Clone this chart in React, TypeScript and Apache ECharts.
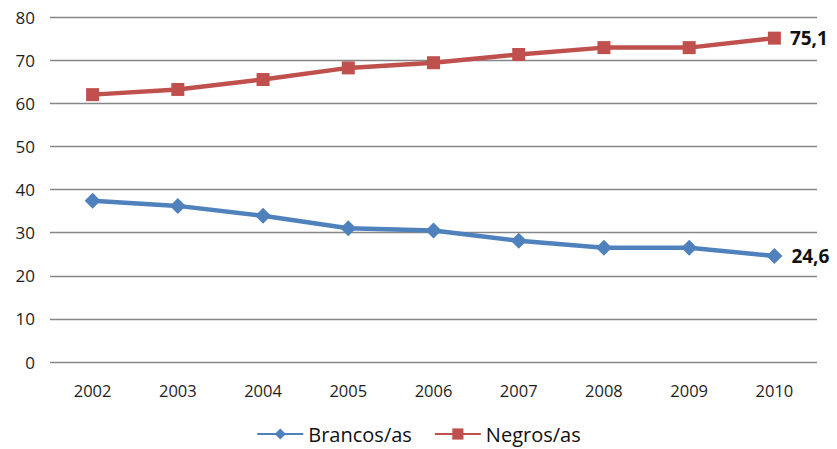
import React, { useEffect, useRef } from "react";
import * as echarts from "echarts";

const years = ["2002", "2003", "2004", "2005", "2006", "2007", "2008", "2009", "2010"];
const brancos = [37.4, 36.2, 33.9, 31.0, 30.5, 28.1, 26.5, 26.5, 24.6];
const negros = [62.0, 63.2, 65.5, 68.2, 69.4, 71.3, 72.9, 72.9, 75.1];
const seriesNames = ["Brancos/as", "Negros/as"];

const FONT = "'Open Sans', 'Liberation Sans', sans-serif";

export default function App() {
  const ref = useRef<HTMLDivElement>(null);

  useEffect(() => {
    if (!ref.current) return;
    const chart = echarts.init(ref.current, null, { renderer: "svg" });
    const lastLabel = (n: number) => (p: any) =>
      p.dataIndex === n - 1 ? String(p.value).replace(".", ",") : "";

    chart.setOption({
      animation: false,
      backgroundColor: "#ffffff",
      grid: { left: 50, right: 20, top: 17, bottom: 87, containLabel: false },
      xAxis: {
        type: "category",
        data: years,
        boundaryGap: true,
        axisLine: { show: false },
        axisTick: { show: false },
        axisLabel: { color: "#1e1e1e", fontFamily: FONT, fontSize: 16.5, margin: 20 },
      },
      yAxis: {
        type: "value",
        min: 0,
        max: 80,
        interval: 10,
        axisLine: { show: false },
        axisTick: { show: false },
        axisLabel: { color: "#1e1e1e", fontFamily: FONT, fontSize: 17, margin: 15 },
        splitLine: { lineStyle: { color: "#868686", width: 1.3 } },
      },
      legend: {
        bottom: 0,
        left: "center",
        itemWidth: 46,
        itemHeight: 14,
        itemGap: 22,
        textStyle: { color: "#111", fontFamily: FONT, fontSize: 20 },
        data: seriesNames,
      },
      series: [
        {
          name: seriesNames[0],
          type: "line",
          data: brancos,
          color: "#4F81BD",
          symbol: "diamond",
          symbolSize: 16,
          lineStyle: { width: 4.5, color: "#4F81BD" },
          itemStyle: { color: "#4F81BD" },
          label: {
            show: true,
            position: "right",
            distance: 9,
            formatter: lastLabel(brancos.length),
            color: "#111",
            fontWeight: "bold",
            fontFamily: FONT,
            fontSize: 19,
          },
        },
        {
          name: seriesNames[1],
          type: "line",
          data: negros,
          color: "#C0504D",
          symbol: "rect",
          symbolSize: 13,
          lineStyle: { width: 4.5, color: "#C0504D" },
          itemStyle: { color: "#C0504D" },
          label: {
            show: true,
            position: "right",
            distance: 9,
            formatter: lastLabel(negros.length),
            color: "#111",
            fontWeight: "bold",
            fontFamily: FONT,
            fontSize: 19,
          },
        },
      ],
    });
    return () => chart.dispose();
  }, []);

  return (
    <div
      ref={ref}
      style={{ position: "fixed", left: 0, top: 0, width: 837, height: 449 }}
    />
  );
}
